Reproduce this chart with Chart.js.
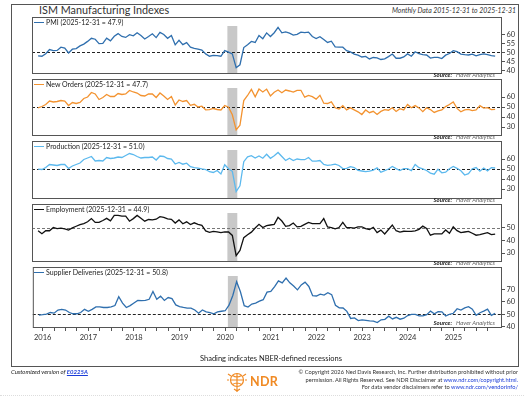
<!DOCTYPE html>
<html>
<head>
<meta charset="utf-8">
<script src="https://cdn.jsdelivr.net/npm/chart.js@4.4.1/dist/chart.umd.min.js"></script>
<style>
body{margin:0;background:#fff;font-family:Lato,"Open Sans",sans-serif;color:#333;}
#page{position:relative;width:524px;height:398px;overflow:hidden;}
#frame{position:absolute;left:11px;top:4px;width:508px;height:363px;border:1px solid #555;box-sizing:border-box;}
.abs{position:absolute;white-space:nowrap;}
#title{left:39px;top:3px;font-size:10.8px;color:#333;}
#sub{right:8px;top:6px;font-size:6.9px;font-style:italic;color:#333;}
.panel{position:absolute;left:32px;}
.leg{position:absolute;left:34px;font-size:7px;color:#222;line-height:8px;}
.leg i{display:inline-block;width:10px;height:1.4px;vertical-align:middle;margin-right:2px;margin-top:-1px;}
.src{position:absolute;right:29px;font-size:6px;font-style:italic;color:#666;}
.src b{color:#222;margin-right:4px;}
#shade{left:200px;top:354px;font-size:7.5px;color:#222;}
#custom{left:11px;top:368px;font-size:6px;font-style:italic;color:#222;}
#custom a{color:#1a3cd8;font-weight:bold;text-decoration:underline;}
#copy{right:6px;top:368px;font-size:5.7px;line-height:7.6px;text-align:right;color:#333;}
#copy a{color:#1a3cd8;text-decoration:none;}
#ndr{left:250px;top:374px;font-size:12.5px;font-weight:bold;color:#f08a24;letter-spacing:0.3px;}
#dots{position:absolute;left:0;top:395px;width:524px;border-top:1px dotted #ddd;}
</style>
</head>
<body>
<div id="page">
  <div id="frame"></div>
  <div class="abs" id="title">ISM Manufacturing Indexes</div>
  <div class="abs" id="sub">Monthly Data 2015-12-31 to 2025-12-31</div>
  <div id="panels"></div>
  <div class="abs" id="shade">Shading indicates NBER-defined recessions</div>
  <div class="abs" id="custom">Customized version of <a>E0225A</a></div>
  <svg class="abs" style="left:225px;top:369px" width="24" height="24" viewBox="0 0 24 24">
    <g fill="none" stroke="#f08a24" stroke-width="1.2">
      <circle cx="12" cy="11" r="6.5"/>
      <path d="M5.5 11h13M12 4.5v13M7.5 6.5c3 2 6 2 9 0M7.5 15.5c3-2 6-2 9 0"/>
      <path d="M3 5l3 2M21 5l-3 2M2 11h2M20 11h2M12 18v5M9 20l3 2 3-2"/>
    </g>
  </svg>
  <div class="abs" id="ndr">NDR</div>
  <div class="abs" id="copy">© Copyright 2026 Ned Davis Research, Inc. Further distribution prohibited without prior<br>permission. All Rights Reserved. See NDR Disclaimer at <a>www.ndr.com/copyright.html.</a><br>For data vendor disclaimers refer to <a>www.ndr.com/vendorinfo/</a></div>
  <div id="dots"></div>
</div>
<script>
// monthly observations, 2015-12 .. 2025-12
const months = [];
for (let y = 2015; y <= 2025; y++) {
  for (let m = 1; m <= 12; m++) {
    if (y == 2015 && m < 12) continue;
    months.push(y + '-' + String(m).padStart(2, '0'));
  }
}

const pmi = [48.0,
  47.8, 49.2, 51.5, 50.9, 51.0, 52.8, 52.3, 49.6, 51.7, 52.0, 53.5, 54.5,
  56.0, 57.7, 57.2, 54.8, 54.9, 57.8, 56.3, 58.8, 60.3, 58.7, 58.2, 59.7,
  59.1, 60.8, 59.3, 57.3, 58.7, 60.2, 58.1, 61.0, 59.8, 57.7, 59.3, 54.1,
  56.6, 54.2, 55.3, 52.8, 52.1, 51.7, 51.2, 49.1, 47.8, 48.3, 48.1, 47.8,
  50.9, 50.1, 49.1, 41.5, 43.1, 52.6, 54.2, 56.0, 55.4, 59.3, 57.5, 60.7,
  58.7, 60.8, 63.7, 60.7, 61.2, 60.6, 59.5, 59.9, 61.1, 60.8, 61.1, 58.7,
  57.6, 58.6, 57.1, 55.4, 56.1, 53.0, 52.8, 52.8, 50.9, 50.2, 49.0, 48.4,
  47.4, 47.7, 46.3, 47.1, 46.9, 46.0, 46.4, 47.6, 49.0, 46.7, 46.7, 47.4,
  49.1, 47.8, 50.3, 49.2, 48.7, 48.5, 46.8, 47.2, 47.2, 46.5, 48.4, 49.3,
  50.9, 50.3, 49.0, 48.7, 48.5, 49.0, 48.0, 48.7, 49.1, 48.7, 48.2, 47.9];

const newOrders = [49.2,
  50.5, 52.5, 56.0, 55.0, 55.5, 56.5, 56.0, 51.5, 54.5, 53.5, 54.5, 58.5,
  60.0, 64.5, 63.0, 57.5, 59.5, 62.5, 60.5, 60.5, 63.5, 62.5, 63.0, 66.5,
  65.0, 64.0, 61.5, 61.0, 63.0, 63.0, 59.5, 64.0, 61.0, 57.5, 60.5, 52.0,
  57.0, 55.5, 56.5, 51.7, 52.7, 50.0, 50.8, 47.2, 47.3, 48.5, 47.5, 47.0,
  51.5, 49.8, 42.2, 27.1, 31.8, 56.4, 61.5, 67.6, 60.2, 67.9, 65.1, 67.9,
  61.1, 64.8, 67.0, 64.3, 67.0, 66.0, 64.9, 66.7, 66.7, 59.8, 61.5, 60.4,
  57.9, 61.7, 53.8, 53.5, 55.1, 49.2, 48.0, 51.3, 47.1, 49.2, 47.2, 45.2,
  42.5, 47.0, 44.3, 45.7, 42.6, 45.6, 47.3, 46.8, 49.2, 45.5, 48.3, 47.1,
  52.5, 49.2, 51.4, 49.1, 45.4, 49.3, 47.4, 44.6, 46.1, 47.1, 50.4, 52.5,
  55.1, 48.6, 45.2, 47.2, 47.6, 46.4, 47.1, 51.4, 48.9, 49.4, 47.4, 47.7];

const production = [49.8,
  49.5, 51.5, 54.5, 54.0, 53.5, 54.5, 54.5, 50.5, 53.0, 54.5, 56.0, 59.5,
  61.0, 62.5, 58.0, 58.5, 58.0, 61.5, 60.5, 61.0, 62.0, 61.5, 63.5, 65.5,
  64.5, 62.5, 61.0, 61.5, 61.5, 62.0, 59.0, 63.0, 62.5, 60.5, 60.0, 55.0,
  56.5, 54.8, 55.8, 52.3, 51.3, 50.8, 50.1, 49.5, 47.3, 46.5, 48.5, 45.0,
  54.3, 50.3, 47.7, 27.5, 33.2, 57.3, 62.1, 63.3, 61.0, 63.0, 60.8, 64.7,
  60.7, 63.2, 66.5, 62.5, 58.5, 60.8, 58.4, 60.0, 59.4, 59.3, 61.5, 57.8,
  57.8, 58.5, 54.5, 53.6, 54.2, 54.9, 53.5, 50.4, 50.6, 52.3, 51.5, 48.5,
  48.0, 47.3, 47.8, 48.9, 51.1, 46.7, 48.3, 50.0, 52.5, 50.4, 48.5, 50.3,
  50.4, 48.4, 54.6, 51.3, 50.2, 48.5, 45.9, 44.8, 49.8, 46.2, 46.8, 50.3,
  52.5, 50.7, 48.3, 44.0, 45.4, 50.3, 51.4, 47.8, 51.0, 48.2, 51.4, 51.0];

const employment = [47.5,
  45.2, 47.5, 47.5, 50.0, 49.2, 49.5, 49.0, 48.0, 49.7, 51.0, 52.3, 53.1,
  54.5, 57.0, 54.0, 54.0, 55.5, 57.2, 55.2, 59.5, 59.5, 59.0, 59.0, 55.0,
  57.0, 59.5, 57.3, 55.0, 56.3, 56.0, 56.5, 58.5, 58.0, 56.8, 56.5, 53.5,
  56.0, 53.0, 54.5, 52.4, 53.7, 52.5, 51.7, 47.4, 46.3, 47.0, 46.6, 46.0,
  46.6, 46.5, 43.8, 28.0, 32.1, 42.1, 44.3, 46.4, 49.6, 52.5, 50.0, 51.5,
  52.0, 52.5, 58.0, 55.1, 50.9, 51.5, 53.5, 50.5, 51.0, 52.5, 54.0, 53.0,
  53.0, 53.0, 57.0, 50.5, 50.0, 49.0, 50.0, 54.0, 50.0, 50.0, 49.5, 50.5,
  50.6, 49.1, 48.5, 50.2, 46.0, 48.0, 45.0, 48.5, 52.0, 47.5, 46.5, 47.1,
  47.0, 47.0, 47.4, 48.6, 51.1, 49.3, 44.0, 45.0, 45.0, 45.0, 48.1, 45.5,
  50.5, 47.6, 46.0, 46.5, 47.0, 45.5, 44.0, 44.5, 45.3, 46.0, 44.5, 44.9];

const supplierDeliveries = [49.5,
  49.8, 50.2, 51.5, 51.0, 53.5, 54.0, 53.5, 51.5, 50.5, 50.5, 51.5, 54.0,
  52.5, 54.0, 56.0, 56.0, 55.5, 55.5, 56.0, 57.0, 64.0, 59.0, 55.5, 57.0,
  59.1, 61.1, 61.0, 61.1, 62.0, 68.2, 62.1, 64.5, 61.1, 63.4, 62.5, 57.5,
  56.2, 55.5, 55.0, 55.0, 53.5, 51.0, 53.5, 52.0, 51.5, 50.5, 52.0, 52.5,
  52.9, 57.3, 65.0, 76.0, 68.0, 56.9, 55.8, 58.2, 59.0, 60.5, 61.7, 67.7,
  68.2, 72.0, 76.6, 75.0, 78.8, 75.1, 72.5, 69.5, 73.4, 75.6, 72.2, 64.9,
  64.6, 66.1, 65.4, 67.2, 65.7, 57.3, 55.2, 55.1, 52.4, 46.8, 47.2, 45.1,
  45.6, 45.2, 44.8, 44.6, 43.5, 45.7, 46.1, 48.6, 46.4, 47.7, 46.2, 47.0,
  49.1, 50.1, 50.1, 48.9, 48.9, 49.8, 52.6, 50.5, 52.2, 52.0, 48.7, 50.1,
  50.9, 54.5, 53.5, 55.2, 56.1, 54.2, 49.3, 51.3, 52.6, 54.2, 49.3, 50.8];

const pmiTicks = [40, 45, 50, 55, 60];
const newOrdersTicks = [30, 40, 50, 60];
const productionTicks = [30, 40, 50, 60];
const employmentTicks = [30, 40, 50];
const supplierTicks = [40, 50, 60, 70];

const recession = ['2020-02', '2020-04'];
const refLevel = 50;

Chart.defaults.font.family = 'Lato';
Chart.defaults.color = '#333';

// x positions are month indexes into `months`
const xMin = -1.6, xMax = 121.8;
const quarterTicks = months.map((m, i) => [m, i]).filter(([m]) => ['01', '04', '07', '10'].includes(m.slice(5))).map(([, i]) => i);

const panels = [
  {name: 'PMI', data: pmi, color: '#2f6fae', ticks: pmiTicks, min: 38, max: 64.5, top: 17, bottom: 79},
  {name: 'New Orders', data: newOrders, color: '#f39330', ticks: newOrdersTicks, min: 21, max: 69, top: 79, bottom: 141},
  {name: 'Production', data: production, color: '#5cb9ee', ticks: productionTicks, min: 20, max: 69, top: 141, bottom: 204},
  {name: 'Employment', data: employment, color: '#111111', ticks: employmentTicks, min: 23, max: 61.4, top: 204, bottom: 267, ref: '#777'},
  {name: 'Supplier Deliveries', data: supplierDeliveries, color: '#2f6fae', ticks: supplierTicks, min: 39.2, max: 80.5, top: 267, bottom: 327, last: true}
];

const decor = {
  id: 'decor',
  beforeDatasetsDraw(chart, args, opts) {
    const {ctx, chartArea: a, scales: {x, y}} = chart;
    ctx.save();
    // recession shading
    const r0 = x.getPixelForValue(months.indexOf(recession[0]) - 0.3);
    const r1 = x.getPixelForValue(months.indexOf(recession[1]) + 0.3);
    ctx.fillStyle = '#c8c8c8';
    ctx.fillRect(r0, a.top, r1 - r0, a.bottom - a.top);
    // 50 line
    const yy = Math.round(y.getPixelForValue(refLevel)) + 0.5;
    ctx.strokeStyle = opts.ref || '#222';
    ctx.lineWidth = 1;
    ctx.setLineDash([3, 2]);
    ctx.beginPath();
    ctx.moveTo(a.left, yy);
    ctx.lineTo(a.right, yy);
    ctx.stroke();
    ctx.restore();
  },
  afterDraw(chart) {
    const {ctx, chartArea: a} = chart;
    ctx.save();
    ctx.strokeStyle = '#555';
    ctx.lineWidth = 1;
    ctx.strokeRect(a.left + 0.5, 0.5, a.right - a.left - 1, a.bottom - 1);
    ctx.restore();
  }
};

const holder = document.getElementById('panels');
const page = document.getElementById('page');

panels.forEach(p => {
  const axisH = p.last ? 22 : 0;
  const h = p.bottom - p.top + 1 + axisH;
  const div = document.createElement('div');
  div.className = 'panel';
  div.style.top = p.top + 'px';
  const cv = document.createElement('canvas');
  cv.width = 492;
  cv.height = h;
  cv.style.width = '492px';
  cv.style.height = h + 'px';
  div.appendChild(cv);
  holder.appendChild(div);

  const lastVal = p.data[p.data.length - 1].toFixed(1);
  const leg = document.createElement('div');
  leg.className = 'leg';
  leg.style.top = (p.top + 1) + 'px';
  leg.innerHTML = '<i style="background:' + p.color + '"></i>' + p.name + ' (2025-12-31 = ' + lastVal + ')';
  page.appendChild(leg);

  const src = document.createElement('div');
  src.className = 'src';
  src.style.top = (p.bottom - 8) + 'px';
  src.innerHTML = '<b>Source:</b>Haver Analytics';
  page.appendChild(src);

  new Chart(cv, {
    type: 'line',
    data: {
      datasets: [{
        label: p.name,
        data: p.data.map((v, i) => ({x: i, y: v})),
        borderColor: p.color,
        borderWidth: 1.3,
        pointRadius: 0,
        tension: 0
      }]
    },
    options: {
      responsive: false,
      animation: false,
      devicePixelRatio: 1,
      layout: {autoPadding: false, padding: {top: 9, left: 0, right: 0, bottom: 0}},
      plugins: {legend: {display: false}, tooltip: {enabled: false}, decor: {ref: p.ref}},
      scales: {
        x: {
          type: 'linear',
          display: !!p.last,
          min: xMin,
          max: xMax,
          afterBuildTicks: s => { s.ticks = quarterTicks.map(v => ({value: v})); },
          afterFit: s => { s.height = axisH; },
          ticks: {
            autoSkip: false,
            maxRotation: 0,
            padding: 2,
            font: {size: 7.5},
            color: '#333',
            callback: v => months[v] && months[v].endsWith('-01') ? months[v].slice(0, 4) : ''
          },
          grid: {drawOnChartArea: false, drawTicks: true, tickLength: 3, color: '#555'},
          border: {display: false}
        },
        y: {
          position: 'right',
          min: p.min,
          max: p.max,
          afterBuildTicks: s => { s.ticks = p.ticks.map(v => ({value: v})); },
          afterFit: s => { s.width = 22; },
          ticks: {padding: 1.5, font: {size: 7.5}, color: '#333'},
          grid: {drawOnChartArea: false, drawTicks: true, tickLength: 3, color: '#555'},
          border: {display: false}
        }
      }
    },
    plugins: [decor]
  });
});
</script>
</body>
</html>
